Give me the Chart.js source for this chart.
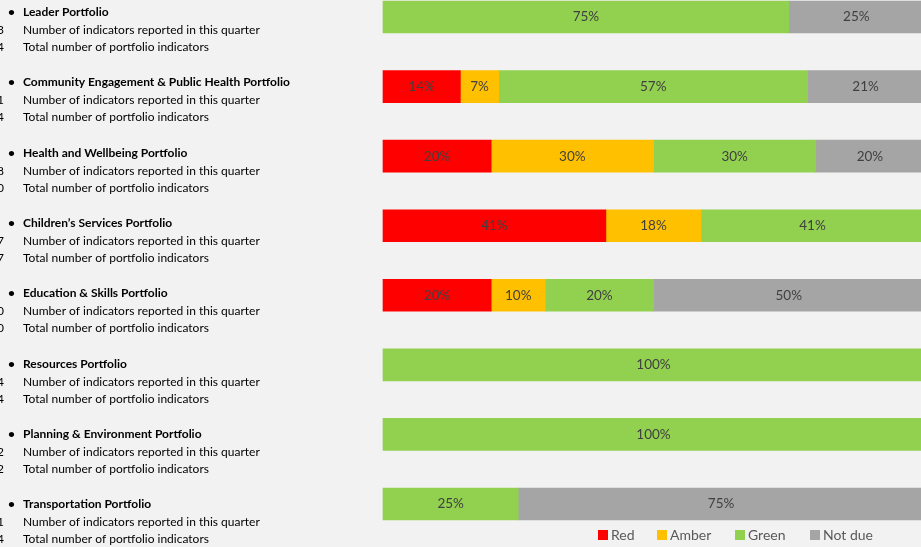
<!DOCTYPE html>
<html>
<head>
<meta charset="utf-8">
<script src="https://cdn.jsdelivr.net/npm/chart.js@4.4.1/dist/chart.umd.min.js"></script>
<style>
  html, body { margin: 0; padding: 0; background: #F2F2F2; overflow: hidden; }
  canvas { display: block; }
</style>
</head>
<body>
<canvas id="rag" width="921" height="547"></canvas>
<script>
// portfolios, top to bottom
const portfolios = [
    'Leader Portfolio',
    'Community Engagement & Public Health Portfolio',
    'Health and Wellbeing Portfolio',
    'Children\u2019s Services Portfolio',
    'Education & Skills Portfolio',
    'Resources Portfolio',
    'Planning & Environment Portfolio',
    'Transportation Portfolio'
];
// indicators reported / total (only last digit visible in the picture)
const reported = [3, 11, 8, 17, 10, 4, 2, 1];
const totals   = [4, 14, 10, 17, 20, 4, 2, 4];

// share of indicators in each RAG status (%)
const redPct    = [0, 14.3, 20, 41.2, 20, 0, 0, 0];
const amberPct  = [0, 7.1, 30, 17.6, 10, 0, 0, 0];
const greenPct  = [75, 57.1, 30, 41.2, 20, 100, 100, 25];
const notDuePct = [25, 21.4, 20, 0, 50, 0, 0, 75];

const FONT = 'Lato, "Open Sans", sans-serif';

// empty segments are left out so no hairline is drawn
const noZero = arr => arr.map(v => (v ? v : null));

// left hand text block + value labels + legend
const textPlugin = {
    id: 'textPlugin',
    afterDatasetsDraw(chart) {
        const ctx = chart.ctx;
        const y = chart.scales.y;
        ctx.save();
        ctx.textBaseline = 'middle';
        portfolios.forEach((name, i) => {
            // text rows sit on a slightly wider pitch than the bars
            const cy = y.getPixelForValue(i) - 5 + i * 0.8;
            ctx.fillStyle = '#000';
            ctx.font = 'bold 12px ' + FONT;
            ctx.textAlign = 'left';
            ctx.fillText('\u2022', 8, cy);
            ctx.fillText(name, 23, cy);
            ctx.font = '12px ' + FONT;
            ctx.fillText('Number of indicators reported in this quarter', 23, cy + 18);
            ctx.fillText('Total number of portfolio indicators', 23, cy + 35);
            ctx.textAlign = 'right';
            ctx.fillText(String(reported[i]), 4, cy + 18);
            ctx.fillText(String(totals[i]), 4, cy + 35);
        });

        // percentages inside the bars
        ctx.font = '13.5px ' + FONT;
        ctx.fillStyle = '#404040';
        ctx.textAlign = 'center';
        chart.data.datasets.forEach((ds, d) => {
            const meta = chart.getDatasetMeta(d);
            meta.data.forEach((bar, i) => {
                const v = ds.data[i];
                if (!v) return;
                ctx.fillText(Math.round(v) + '%', (bar.x + bar.base) / 2, bar.y);
            });
        });

        // legend, bottom right
        ctx.font = '14px ' + FONT;
        ctx.textAlign = 'left';
        const legendX = [598, 657, 735, 810];
        chart.data.datasets.forEach((ds, d) => {
            ctx.fillStyle = ds.backgroundColor;
            ctx.fillRect(legendX[d], 530, 10, 10);
            ctx.fillStyle = '#595959';
            ctx.fillText(ds.label, legendX[d] + 13, 535);
        });
        ctx.restore();
    }
};

new Chart(document.getElementById('rag'), {
    type: 'bar',
    data: {
        labels: portfolios,
        datasets: [
            { label: 'Red', data: noZero(redPct), backgroundColor: '#FF0000' },
            { label: 'Amber', data: noZero(amberPct), backgroundColor: '#FFC000' },
            { label: 'Green', data: noZero(greenPct), backgroundColor: '#92D050' },
            { label: 'Not due', data: noZero(notDuePct), backgroundColor: '#A5A5A5' }
        ]
    },
    options: {
        indexAxis: 'y',
        responsive: false,
        animation: false,
        datasets: { bar: { barThickness: 32, borderWidth: 0, clip: false } },
        layout: { padding: { left: 383, right: 0, top: 17, bottom: 43 } },
        scales: {
            x: { stacked: true, min: 0, max: 99.45, display: false },
            y: { stacked: true, offset: false, display: false }
        },
        plugins: {
            legend: { display: false },
            tooltip: { enabled: false }
        }
    },
    plugins: [textPlugin]
});
</script>
</body>
</html>
